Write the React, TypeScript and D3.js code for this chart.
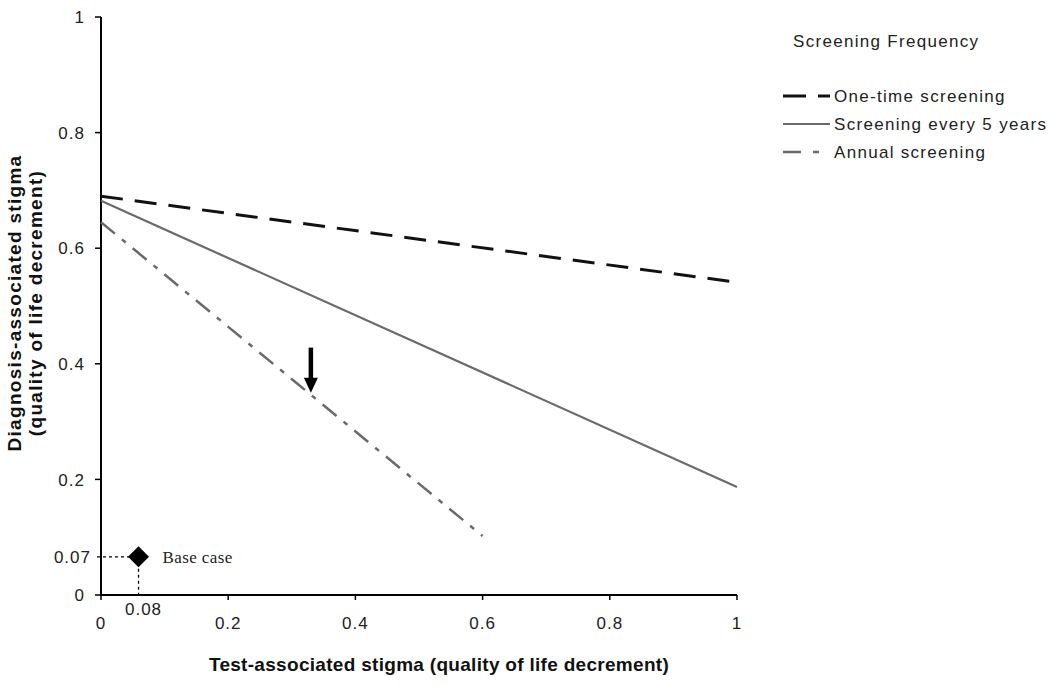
import React from "react";
import * as d3 from "d3";

const xTicks = [0, 0.2, 0.4, 0.6, 0.8, 1];
const yTicks = [0, 0.2, 0.4, 0.6, 0.8, 1];
const seriesNames = ["One-time screening", "Screening every 5 years", "Annual screening"];
const oneTime: [number, number][] = [[0, 0.69], [1, 0.541]];
const every5: [number, number][] = [[0, 0.682], [1, 0.187]];
const annual: [number, number][] = [[0, 0.645], [0.6, 0.102]];
const baseCase = { x: 0.059, y: 0.066, xLabel: "0.08", yLabel: "0.07" };
const arrowX = 0.33;
const arrowY = [0.428, 0.35];

export default function App() {
  const W = 1050, H = 686;
  const x = d3.scaleLinear().domain([0, 1]).range([101, 737]);
  const y = d3.scaleLinear().domain([0, 1]).range([595, 17]);
  const line = d3.line<[number, number]>().x(d => x(d[0])).y(d => y(d[1]));
  const font = "'Liberation Sans', Arial, sans-serif";
  const styles = [
    { stroke: "#111", width: 3, dash: "22 12" },
    { stroke: "#6a6a6a", width: 2.2, dash: null },
    { stroke: "#6a6a6a", width: 2.5, dash: "18 9 5 9" },
  ];
  const data = [oneTime, every5, annual];
  const bx = x(baseCase.x), by = y(baseCase.y);
  const ax = x(arrowX), ay0 = y(arrowY[0]), ay1 = y(arrowY[1]);
  return (
    <svg width={W} height={H} style={{ position: "absolute", left: 0, top: 0, background: "#fff" }}>
      {/* axes */}
      <line x1={x(0)} x2={x(0)} y1={y(0)} y2={y(1)} stroke="#000" strokeWidth={2} />
      <line x1={x(0)} x2={x(1)} y1={y(0)} y2={y(0)} stroke="#000" strokeWidth={2} />
      {yTicks.map(t => (
        <g key={"y" + t}>
          <line x1={x(0) - 6} x2={x(0)} y1={y(t)} y2={y(t)} stroke="#000" strokeWidth={1.5} />
          <text x={x(0) - 16} y={y(t)} dy="0.36em" textAnchor="end" fontFamily={font} fontSize={17} letterSpacing={1} fill="#222">{t}</text>
        </g>
      ))}
      {xTicks.map(t => (
        <g key={"x" + t}>
          <line x1={x(t)} x2={x(t)} y1={y(0)} y2={y(0) + 5} stroke="#000" strokeWidth={1.5} />
          <text x={x(t)} y={y(0) + 34} textAnchor="middle" fontFamily={font} fontSize={17} letterSpacing={1} fill="#222">{t}</text>
        </g>
      ))}
      {/* series */}
      {data.map((d, i) => (
        <path key={i} d={line(d) || ""} fill="none" stroke={styles[i].stroke} strokeWidth={styles[i].width}
          strokeDasharray={styles[i].dash || undefined} />
      ))}
      {/* base case */}
      <line x1={x(0) - 4} x2={bx} y1={by} y2={by} stroke="#000" strokeWidth={1.3} strokeDasharray="3 3" />
      <line x1={bx} x2={bx} y1={by} y2={y(0)} stroke="#000" strokeWidth={1.3} strokeDasharray="3 3" />
      <path d={`M${bx},${by - 10.5} L${bx + 10.5},${by} L${bx},${by + 10.5} L${bx - 10.5},${by} Z`} fill="#000" />
      <text x={bx + 24} y={by} dy="0.35em" fontFamily="'Liberation Serif', 'Times New Roman', serif" fontSize={17} letterSpacing={0.4} fill="#222">Base case</text>
      <text x={x(0) - 10} y={by} dy="0.36em" textAnchor="end" fontFamily={font} fontSize={17} letterSpacing={1} fill="#222">{baseCase.yLabel}</text>
      <text x={bx + 5} y={y(0) + 20} textAnchor="middle" fontFamily={font} fontSize={17} letterSpacing={1} fill="#222">{baseCase.xLabel}</text>
      {/* arrow */}
      <line x1={ax} x2={ax} y1={ay0} y2={ay1 - 12} stroke="#000" strokeWidth={4.5} />
      <path d={`M${ax - 7},${ay1 - 15} L${ax + 7},${ay1 - 15} L${ax},${ay1} Z`} fill="#000" />
      {/* axis titles */}
      <text x={439} y={671} textAnchor="middle" fontFamily={font} fontSize={19} fontWeight="bold" letterSpacing={0.3} fill="#111">Test-associated stigma (quality of life decrement)</text>
      <g transform="translate(21,303) rotate(-90)">
        <text x={0} y={0} textAnchor="middle" fontFamily={font} fontSize={19} fontWeight="bold" letterSpacing={1.3} fill="#111">Diagnosis-associated stigma</text>
        <text x={0} y={21} textAnchor="middle" fontFamily={font} fontSize={19} fontWeight="bold" letterSpacing={1.3} fill="#111">(quality of life decrement)</text>
      </g>
      {/* legend */}
      <text x={793} y={47} fontFamily={font} fontSize={17} letterSpacing={1.3} fill="#222">Screening Frequency</text>
      {seriesNames.map((n, i) => (
        <g key={n} transform={`translate(0,${96 + i * 28})`}>
          <line x1={783} x2={830} y1={0} y2={0} stroke={styles[i].stroke} strokeWidth={styles[i].width}
            strokeDasharray={i === 0 ? "23 12" : i === 2 ? "18 12 6 20" : undefined} />
          <text x={834} y={0} dy="0.36em" fontFamily={font} fontSize={17} letterSpacing={1.3} fill="#222">{n}</text>
        </g>
      ))}
    </svg>
  );
}
